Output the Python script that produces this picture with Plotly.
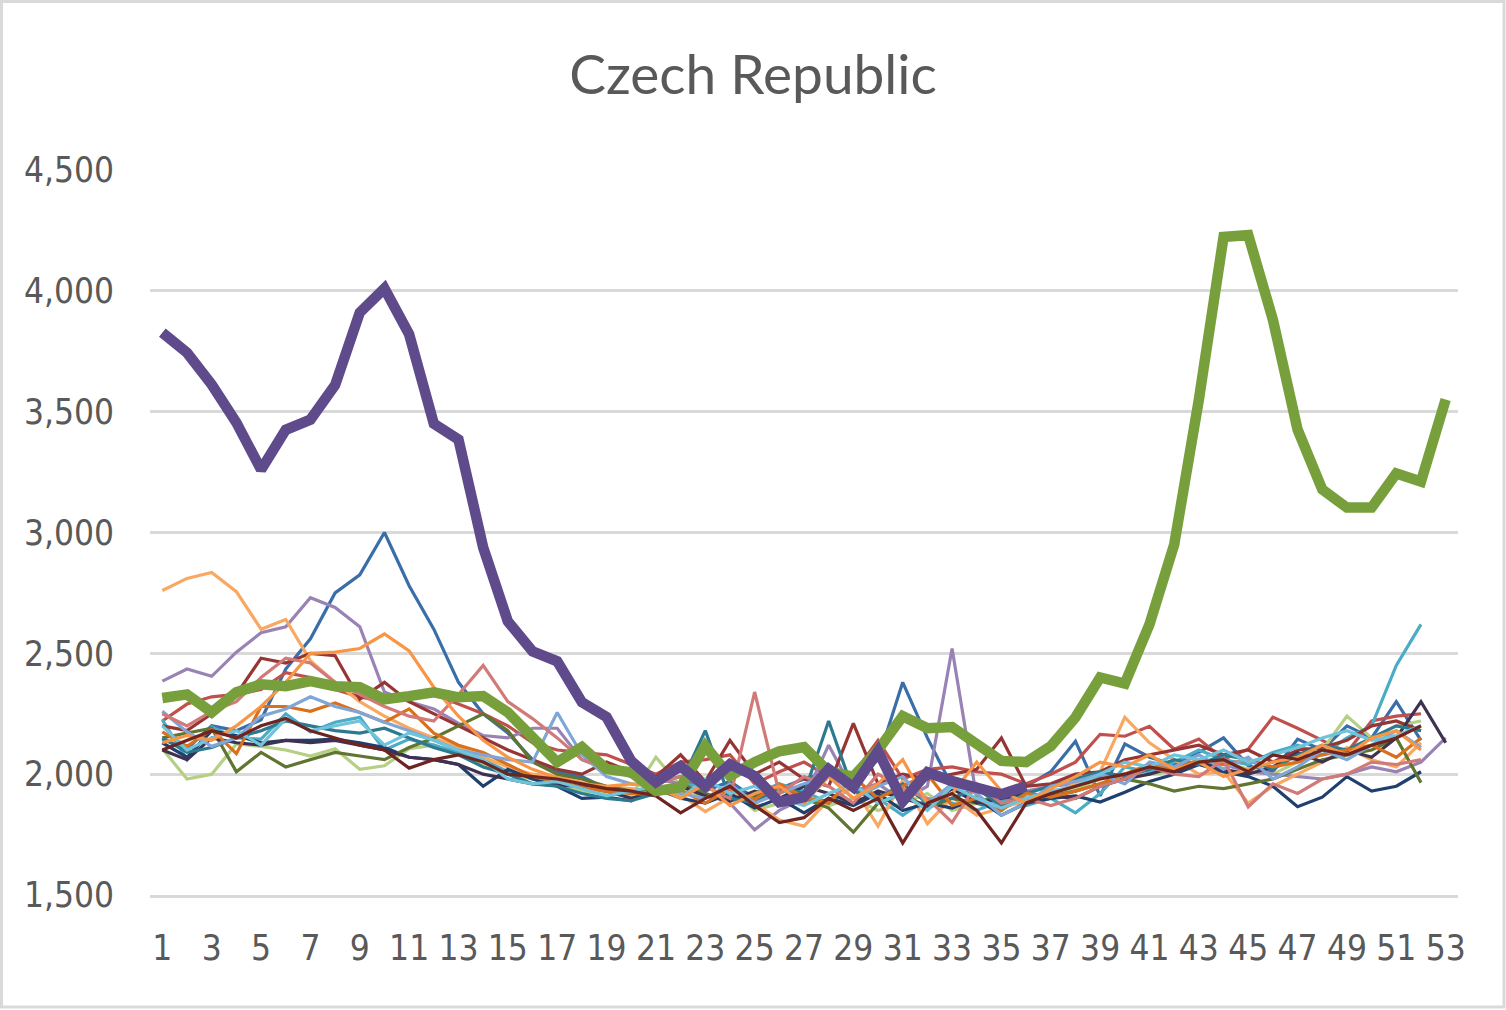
import plotly.graph_objects as go

weeks = list(range(1, 54))
tick_weeks = list(range(1, 54, 2))
tick_labels = [str(w) for w in tick_weeks]
y_ticks = [1500, 2000, 2500, 3000, 3500, 4000, 4500]

# thin lines: earlier years
s_lo = [2760, 2810, 2835, 2755, 2600, 2640, 2470, 2380, 2300, 2240, 2190, 2150,
        2110, 2070, 2030, 2000, 1990, 1965, 1950, 1940,
        1930, 1915, 1845, 1905, 1880, 1810, 1785, 1895, 1945, 1785, 1975, 1795, 1905, 1830, 1860, 1890, 1915,
        1960, 2010, 2235, 2130, 2060, 2000, 2010, 1880, 1950, 2000, 2050, 2110, 2060, 2030, 2130]
s_o = [2130, 2160, 2140, 2200, 2280, 2380, 2500, 2505, 2520, 2580, 2510, 2360,
       2240, 2140, 2070, 2020, 1985, 1960, 1950, 1960,
       1950, 1900, 1960, 1870, 1920, 1950, 1880, 1990, 1900, 1960, 2060, 1880, 1920, 2050, 1930, 1880, 1940,
       1990, 2050, 2030, 2080, 2020, 2050, 1990, 2020, 2050, 2070, 2120, 2080, 2150, 2180, 2100]
s_do = [2175, 2115, 2185, 2085, 2280, 2280, 2260, 2295, 2255, 2215, 2270, 2170,
        2120, 2090, 2040, 1990, 1970, 1945, 1930, 1920,
        1915, 1935, 1880, 1940, 1895, 1960, 1905, 1880, 1990, 1900, 1950, 2000, 1870, 1900, 1850, 1920, 1905,
        1930, 1960, 2000, 2040, 2020, 2060, 2040, 2060, 2030, 2050, 2080, 2100, 2120, 2070, 2150]
s_lp = [2385, 2435, 2405, 2505, 2585, 2610, 2730, 2690, 2610, 2340, 2300, 2270,
        2210, 2160, 2150, 2190, 2190, 2060, 2020, 1990,
        1980, 1960, 1920, 1880, 1770, 1850, 1900, 2120, 1930, 1960, 1890, 1950, 2520, 1900, 1880, 1930, 1950,
        1960, 1990, 2000, 2020, 2010, 2050, 2040, 2010, 2000, 1990, 1980, 2000, 2030, 2010, 2050, 2150]
s_dp = [2100, 2060, 2150, 2130, 2120, 2140, 2130, 2140, 2120, 2100, 2070, 2060,
        2040, 2000, 1980, 1960, 1955, 1950, 1930, 1900,
        1930, 1950, 1910, 1890, 1930, 1900, 1950, 1920, 1880, 1930, 1900, 1870, 1940, 1880, 1900, 1920, 1910,
        1900, 1950, 1980, 2000, 2030, 2050, 2020, 2000, 2030, 2090, 2050, 2100, 2070, 2150, 2300, 2130]
s_b = [2145, 2105, 2200, 2180, 2225, 2435, 2560, 2750, 2825, 3000, 2780, 2600,
       2380, 2250, 2170, 2060, 2010, 1990, 1940, 1920,
       1960, 1990, 1930, 1970, 1900, 1940, 1980, 2010, 1960, 2060, 2380, 2150, 1950, 1880, 1850, 1950, 2010,
       2136, 1910, 2125, 2070, 2040, 2090, 2150, 2035, 2010, 2145, 2100, 2200, 2150, 2300, 2140]
s_lb = [2260, 2175, 2115, 2150, 2240, 2270, 2320, 2280, 2255, 2215, 2180, 2140,
        2100, 2080, 2060, 2050, 2255, 2080, 1990, 1960,
        1950, 1920, 1900, 1960, 1880, 1920, 1960, 1990, 1900, 1950, 1990, 1880, 1960, 1920, 1830, 1880, 1950,
        1970, 2000, 1960, 2050, 2030, 2080, 2020, 2070, 1980, 2030, 2100, 2060, 2120, 2180, 2110]
s_navy = [2130, 2070, 2180, 2160, 2130, 2140, 2140, 2145, 2130, 2110, 2070, 2060,
          2040, 1950, 2020, 1980, 1950, 1900, 1905, 1890,
          1940, 1900, 1880, 1920, 1860, 1900, 1840, 1900, 1870, 1920, 1850, 1880, 1860, 1900, 1830, 1880, 1900,
          1910, 1885, 1925, 1970, 2000, 2040, 2010, 1990, 1950, 1865, 1905, 1990, 1930, 1950, 2010]
s_r = [2220, 2290, 2320, 2330, 2350, 2420, 2400, 2350, 2320, 2300, 2320, 2330,
       2290, 2250, 2200, 2130, 2100, 2090, 2080, 2040,
       2000, 2050, 2060, 2080, 1960, 2010, 2050, 1990, 2000, 2140, 1980, 2020, 2030, 2010, 2000, 1960, 2000,
       2050, 2165, 2157, 2198, 2103, 2145, 2062, 2103, 2236, 2190, 2140, 2090, 2220, 2240, 2250]
s_dr = [2200, 2180, 2250, 2330, 2480, 2460, 2500, 2490, 2310, 2380, 2300, 2250,
        2200, 2150, 2100, 2060, 2020, 2000, 2050, 2010,
        1990, 2080, 1970, 2140, 2000, 2050, 1980, 1950, 2210, 1960, 2000, 1980, 2000, 2020, 2150, 1950, 1960,
        2000, 2010, 2060, 2080, 2100, 2120, 2080, 2100, 2050, 2100, 2110, 2140, 2200, 2220, 2180]
s_dr2 = [2100, 2140, 2180, 2150, 2200, 2230, 2180, 2150, 2120, 2100, 2025, 2060,
         2080, 2050, 2000, 1990, 1980, 1960, 1940, 1930,
         1910, 1840, 1900, 1950, 1870, 1800, 1820, 1900, 1850, 1900, 1715, 1880, 1920, 1850, 1715, 1880, 1920,
         1950, 1980, 2000, 2030, 2010, 2050, 2060, 2010, 2080, 2060, 2100, 2080, 2120, 2150, 2200]
s_pr = [2250, 2200, 2260, 2300, 2400, 2480, 2460, 2380, 2330, 2280, 2240, 2220,
        2330, 2450, 2300, 2230, 2150, 2060, 2030, 1990,
        1960, 1990, 1950, 1900, 2340, 1920, 1990, 1950, 1880, 2000, 1940, 1900, 1800, 1960, 1880, 1900, 1870,
        1900, 1950, 1980, 2030, 2000, 1990, 2060, 1865, 1960, 1920, 1980, 2000, 2050, 2040, 2060]
s_dg = [2150, 2170, 2190, 2010, 2090, 2030, 2060, 2090, 2075, 2060, 2110, 2150,
        2200, 2250, 2180, 2050, 2000, 1980, 1950, 1930,
        1940, 1960, 1920, 1890, 1910, 1940, 1900, 1860, 1760, 1880, 1920, 1860, 1900, 1880, 1920, 1900, 1910,
        1930, 1960, 1980, 1960, 1930, 1950, 1940, 1960, 1980, 2020, 2060, 2080, 2100, 2150, 1965]
s_lg = [2105, 1980, 2000, 2125, 2115, 2100, 2075, 2105, 2020, 2035, 2105, 2120,
        2080, 2040, 2000, 1980, 1960, 1930, 1920, 1910,
        2070, 1950, 1900, 1940, 1850, 1880, 1910, 1870, 1900, 1850, 1880, 1920, 1850, 1880, 1900, 1880, 1910,
        1940, 1980, 2000, 2000, 2010, 2040, 2050, 2020, 2000, 2050, 2100, 2240, 2150, 2200, 2220]
s_aq = [2225, 2060, 2195, 2150, 2145, 2250, 2175, 2215, 2235, 2100, 2145, 2120,
        2090, 2060, 2010, 1990, 1960, 1950, 1940, 1920,
        1930, 1960, 1950, 1900, 1920, 1960, 1930, 1880, 1950, 1900, 1830, 1900, 1880, 1850, 1890, 1870, 1900,
        1840, 1920, 2030, 2010, 2050, 2100, 2060, 2040, 2090, 2120, 2080, 2150, 2200, 2450, 2620]
s_laq = [2200, 2100, 2150, 2180, 2120, 2230, 2180, 2200, 2220, 2120, 2170, 2140,
         2100, 2060, 1980, 1960, 1970, 1940, 1910, 1930,
         1950, 1900, 1980, 1920, 1950, 1900, 1870, 1920, 1960, 1880, 1920, 1850, 1950, 1900, 1860, 1900, 1930,
         1950, 2000, 2050, 2030, 2080, 2060, 2100, 2050, 2080, 2110, 2150, 2180, 2140, 2160, 2200]
s_teal = [2150, 2090, 2110, 2150, 2180, 2220, 2200, 2180, 2170, 2190, 2150, 2110,
          2080, 2030, 2000, 1960, 1950, 1920, 1900, 1890,
          1920, 1960, 2180, 1900, 1880, 1950, 1920, 2220, 1930, 1900, 1960, 1880, 1900, 1940, 1870, 1920, 1950,
          1980, 2010, 1990, 2020, 2060, 2040, 2080, 2060, 2020, 2080, 2120, 2100, 2150, 2200, 2180]

# thick lines
s_2020 = [2315, 2330, 2256, 2339, 2372, 2364, 2385, 2364, 2360, 2310, 2323, 2339,
          2318, 2323, 2256, 2157, 2050, 2112, 2021, 2008,
          1930, 1946, 2116, 1992, 2050, 2095, 2112, 2010, 1990, 2100, 2240, 2190, 2195, 2125, 2055, 2050, 2116,
          2235, 2400, 2375, 2620, 2950, 3550, 4223, 4231, 3880, 3426, 3178, 3103, 3103, 3244, 3211, 3550]
s_2021 = [3827, 3744, 3612, 3455, 3260, 3425, 3467, 3610, 3910, 4010, 3820, 3450,
          3385, 2938, 2632, 2508, 2467, 2298, 2236, 2054,
          1967, 2033, 1950, 2041, 1992, 1884, 1905, 2021, 1946, 2095, 1888, 2008, 1971, 1946, 1917, 1950]

thin = [
    (s_b, "#3A6EA8"), (s_r, "#C0504D"), (s_lg, "#B5CF84"), (s_lp, "#9983B5"),
    (s_aq, "#4BACC6"), (s_lo, "#F9A862"), (s_navy, "#1F3F6E"), (s_dr, "#963634"),
    (s_dg, "#5F7530"), (s_dp, "#3F3151"), (s_teal, "#2C7A8F"), (s_do, "#D9701C"),
    (s_lb, "#7FA6D6"), (s_pr, "#D27A78"), (s_laq, "#6FC3DA"), (s_o, "#F79646"),
    (s_dr2, "#6E2421"),
]

fig = go.Figure()
for vals, col in thin:
    fig.add_trace(go.Scatter(x=weeks[:len(vals)], y=vals, mode="lines",
                             line=dict(color=col, width=3.2), showlegend=False))
fig.add_trace(go.Scatter(x=weeks[:len(s_2020)], y=s_2020, mode="lines",
                         line=dict(color="#77A03C", width=10.5), showlegend=False))
fig.add_trace(go.Scatter(x=weeks[:len(s_2021)], y=s_2021, mode="lines",
                         line=dict(color="#5F4B8B", width=10.5), showlegend=False))

tick_font = dict(family="Liberation Sans Narrow, DejaVu Sans Condensed, Lato, sans-serif",
                 size=35, color="#595959")

fig.update_layout(
    width=1506, height=1010, autosize=False,
    margin=dict(l=150, r=48, t=170, b=115),
    paper_bgcolor="white", plot_bgcolor="white",
    title=dict(text="Czech Republic", x=0.5, xanchor="center", y=1 - 75 / 1010, yanchor="middle",
               font=dict(family="Lato, Open Sans, sans-serif", size=55, color="#595959")),
    xaxis=dict(range=[0.5, 53.5], tickmode="array", tickvals=tick_weeks, ticktext=tick_labels,
               showgrid=False, zeroline=False, showline=True, linecolor="#D9D9D9", linewidth=2.5,
               ticks="", tickfont=tick_font, ticklabelstandoff=20),
    yaxis=dict(range=[1500, 4500], tickmode="array", tickvals=y_ticks,
               ticktext=[f"{v:,}" for v in y_ticks],
               showgrid=True, gridcolor="#D9D9D9", gridwidth=2.5, zeroline=False, showline=False,
               ticks="", tickfont=tick_font, ticklabelstandoff=35),
    shapes=[dict(type="rect", xref="paper", yref="paper",
                 x0=(1.5 - 150) / 1308, x1=(1504 - 150) / 1308,
                 y0=(895 - 1007) / 725, y1=(895 - 1.5) / 725,
                 line=dict(color="#D9D9D9", width=3), fillcolor="rgba(0,0,0,0)", layer="below")],
)

fig.write_html("out.html", config={"displayModeBar": False},
               post_script="document.body.style.margin='0';document.body.style.overflow='hidden';")
